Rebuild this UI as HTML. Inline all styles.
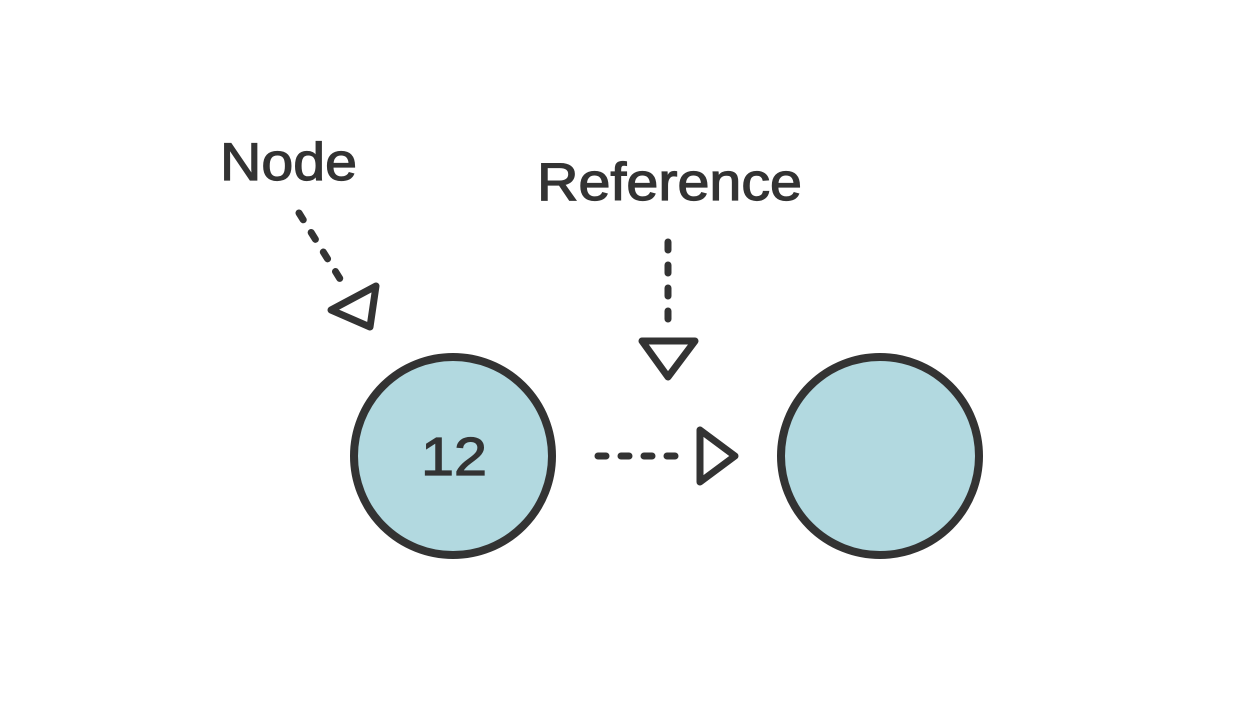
<!DOCTYPE html>
<html><head><meta charset="utf-8"><style>
html,body{margin:0;padding:0;background:#fff;}
svg{display:block;}
text{font-family:"Liberation Sans","DejaVu Sans",sans-serif;fill:#333;stroke:#333;stroke-width:1.2;}
</style></head><body>
<svg width="1258" height="710" viewBox="0 0 1258 710">
  <text x="220" y="180" font-size="53" textLength="137" lengthAdjust="spacingAndGlyphs">Node</text>
  <text x="537" y="200" font-size="53" textLength="265" lengthAdjust="spacingAndGlyphs">Reference</text>

  <g stroke="#333" stroke-width="7" stroke-linecap="round" stroke-linejoin="round" fill="none">
    <line x1="299" y1="213" x2="342" y2="282" stroke-dasharray="8 15"/>
    <polygon points="376,286 370,327 331,310"/>
  </g>

  <g stroke="#333" stroke-width="7" stroke-linecap="round" stroke-linejoin="round" fill="none">
    <line x1="668" y1="242" x2="668" y2="322" stroke-dasharray="8 15"/>
    <polygon points="642,341 695,341 668,377"/>
  </g>

  <circle cx="453" cy="456" r="99" fill="#b2d9e0" stroke="#333" stroke-width="8"/>
  <text x="421" y="475" font-size="54" textLength="66" lengthAdjust="spacingAndGlyphs">12</text>

  <g stroke="#333" stroke-width="7" stroke-linecap="round" stroke-linejoin="round" fill="none">
    <line x1="598" y1="456" x2="690" y2="456" stroke-dasharray="8 15"/>
    <polygon points="700,430 700,482 735,456"/>
  </g>

  <circle cx="880" cy="456" r="99" fill="#b2d9e0" stroke="#333" stroke-width="8"/>
</svg>
</body></html>
